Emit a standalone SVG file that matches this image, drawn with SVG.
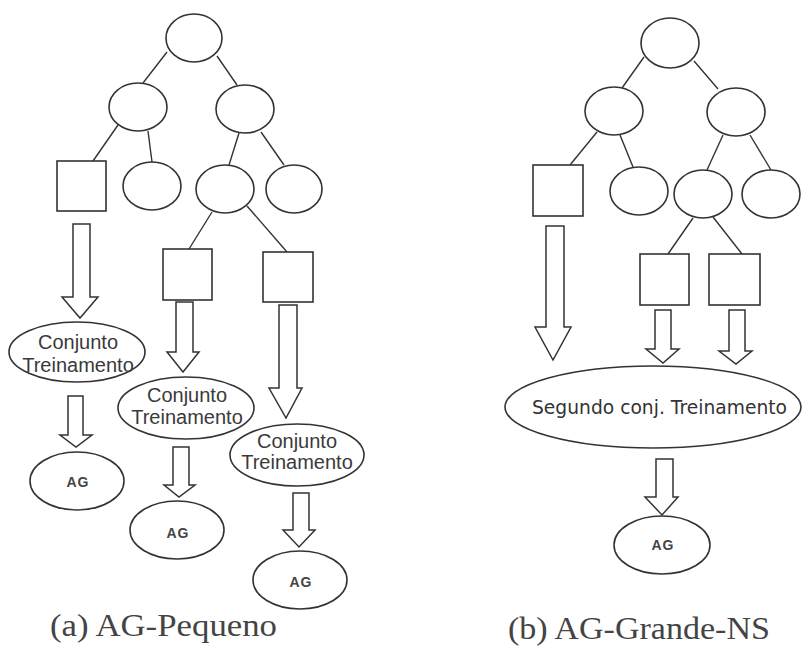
<svg xmlns="http://www.w3.org/2000/svg" width="802" height="648" viewBox="0 0 802 648">
  <style>
    .shape { fill: #ffffff; stroke: #333333; stroke-width: 1.6; }
    .edge { fill: none; stroke: #333333; stroke-width: 1.4; }
    .block { fill: #ffffff; stroke: #333333; stroke-width: 1.5; stroke-linejoin: miter; }
    .lbl { font-family: "Liberation Sans", Arial, sans-serif; font-size: 20px; fill: #3a3a3a; text-anchor: middle; }
    .ag { font-family: "Liberation Sans", Arial, sans-serif; font-size: 14px; font-weight: bold; fill: #444444; text-anchor: middle; letter-spacing: 1px; }
    .geo { font-family: "DejaVu Sans", "Liberation Sans", sans-serif; font-size: 19px; fill: #333333; }
    .cap { font-family: "Liberation Serif", "Times New Roman", serif; font-size: 32px; fill: #444444; }
  </style>
  <rect width="802" height="648" fill="#ffffff"/>

  <!-- connectors: tree edges and block arrows -->
  <g id="connectors">
    <!-- left tree edges -->
    <line class="edge" x1="167" y1="52" x2="143" y2="83"/>
    <line class="edge" x1="217" y1="56" x2="237" y2="85"/>
    <line class="edge" x1="118" y1="125" x2="93" y2="161"/>
    <line class="edge" x1="148" y1="131" x2="152" y2="162"/>
    <line class="edge" x1="239" y1="133" x2="229" y2="165"/>
    <line class="edge" x1="261" y1="132" x2="284" y2="165"/>
    <line class="edge" x1="212" y1="212" x2="189" y2="249"/>
    <line class="edge" x1="247" y1="206" x2="287" y2="252"/>
    <!-- right tree edges -->
    <line class="edge" x1="644" y1="57" x2="622" y2="88"/>
    <line class="edge" x1="694" y1="61" x2="718" y2="89"/>
    <line class="edge" x1="597" y1="132" x2="570" y2="165"/>
    <line class="edge" x1="620" y1="135" x2="633" y2="167"/>
    <line class="edge" x1="723" y1="135" x2="707" y2="170"/>
    <line class="edge" x1="750" y1="135" x2="771" y2="170"/>
    <line class="edge" x1="693" y1="218" x2="668" y2="254"/>
    <line class="edge" x1="713" y1="217" x2="742" y2="254"/>

    <!-- block arrows, left figure -->
    <path class="block" d="M73,224 H90 V297 H98 L80,318 L62,297 H73 Z"/>
    <path class="block" d="M68,396 H83 V435 H92 L76,447 L60,435 H68 Z"/>
    <path class="block" d="M176,302 H193 V352 H199 L183,372 L167,352 H176 Z"/>
    <path class="block" d="M173,447 H189 V485 H195 L179,497 L164,485 H173 Z"/>
    <path class="block" d="M279,305 H297 V388 H302 L286,418 L269,388 H279 Z"/>
    <path class="block" d="M293,493 H309 V530 H315 L299,547 L283,530 H293 Z"/>

    <!-- block arrows, right figure -->
    <path class="block" d="M546,226 H564 V327 H571 L553,360 L535,327 H546 Z"/>
    <path class="block" d="M655,310 H671 V349 H679 L663,363 L646,349 H655 Z"/>
    <path class="block" d="M729,310 H745 V351 H752 L736,364 L719,351 H729 Z"/>
    <path class="block" d="M656,459 H673 V497 H678 L662,515 L645,497 H656 Z"/>
  </g>

  <!-- left tree nodes -->
  <g id="a-root"><ellipse class="shape" cx="194" cy="38" rx="28" ry="24"/></g>
  <g id="a-n1"><ellipse class="shape" cx="138" cy="107" rx="29" ry="24"/></g>
  <g id="a-n2"><ellipse class="shape" cx="245" cy="109" rx="29" ry="24"/></g>
  <g id="a-leaf1"><rect class="shape" x="57" y="161" width="49" height="50"/></g>
  <g id="a-n3"><ellipse class="shape" cx="152" cy="186" rx="29" ry="24"/></g>
  <g id="a-n4"><ellipse class="shape" cx="225" cy="189" rx="29" ry="24"/></g>
  <g id="a-n5"><ellipse class="shape" cx="294" cy="189" rx="28" ry="24"/></g>
  <g id="a-leaf2"><rect class="shape" x="163" y="249" width="49" height="51"/></g>
  <g id="a-leaf3"><rect class="shape" x="263" y="252" width="50" height="50"/></g>

  <g id="a-set1">
    <ellipse class="shape" cx="77" cy="352" rx="68" ry="30"/>
    <text class="lbl" x="78" y="349">Conjunto</text>
    <text class="lbl" x="78" y="372">Treinamento</text>
  </g>
  <g id="a-set2">
    <ellipse class="shape" cx="186" cy="408" rx="68" ry="31"/>
    <text class="lbl" x="187" y="402">Conjunto</text>
    <text class="lbl" x="187" y="424">Treinamento</text>
  </g>
  <g id="a-set3">
    <ellipse class="shape" cx="297" cy="455" rx="67" ry="31"/>
    <text class="lbl" x="297" y="448">Conjunto</text>
    <text class="lbl" x="297" y="469">Treinamento</text>
  </g>
  <g id="a-ag1">
    <ellipse class="shape" cx="77" cy="481" rx="47" ry="29"/>
    <text class="ag" x="78" y="487">AG</text>
  </g>
  <g id="a-ag2">
    <ellipse class="shape" cx="177" cy="530" rx="47" ry="29"/>
    <text class="ag" x="178" y="538">AG</text>
  </g>
  <g id="a-ag3">
    <ellipse class="shape" cx="300" cy="580" rx="47" ry="29"/>
    <text class="ag" x="301" y="587">AG</text>
  </g>

  <!-- right tree nodes -->
  <g id="b-root"><ellipse class="shape" cx="670" cy="43" rx="29" ry="25"/></g>
  <g id="b-n1"><ellipse class="shape" cx="614" cy="111" rx="29" ry="24"/></g>
  <g id="b-n2"><ellipse class="shape" cx="736" cy="112" rx="29" ry="24"/></g>
  <g id="b-leaf1"><rect class="shape" x="533" y="165" width="50" height="51"/></g>
  <g id="b-n3"><ellipse class="shape" cx="639" cy="191" rx="29" ry="24"/></g>
  <g id="b-n4"><ellipse class="shape" cx="703" cy="194" rx="29" ry="24"/></g>
  <g id="b-n5"><ellipse class="shape" cx="771" cy="194" rx="29" ry="24"/></g>
  <g id="b-leaf2"><rect class="shape" x="640" y="254" width="49" height="51"/></g>
  <g id="b-leaf3"><rect class="shape" x="709" y="254" width="51" height="51"/></g>

  <g id="b-set">
    <ellipse class="shape" cx="653" cy="407" rx="148" ry="41"/>
    <text class="geo" x="532" y="414" textLength="255" lengthAdjust="spacingAndGlyphs">Segundo conj. Treinamento</text>
  </g>
  <g id="b-ag">
    <ellipse class="shape" cx="662" cy="545" rx="48" ry="29"/>
    <text class="ag" x="663" y="550">AG</text>
  </g>

  <!-- captions -->
  <text class="cap" x="50" y="636" textLength="227" lengthAdjust="spacingAndGlyphs">(a) AG-Pequeno</text>
  <text class="cap" x="508" y="639" textLength="262" lengthAdjust="spacingAndGlyphs">(b) AG-Grande-NS</text>
</svg>
